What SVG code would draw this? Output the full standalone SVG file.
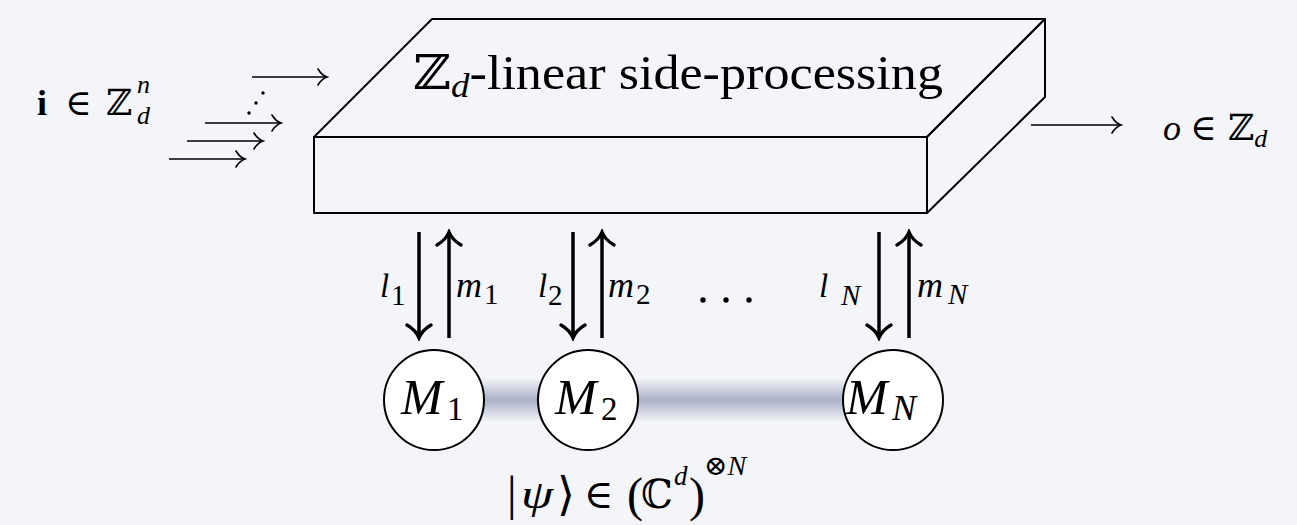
<svg xmlns="http://www.w3.org/2000/svg" width="1297" height="525" viewBox="0 0 1297 525">
<style>
text{font-family:'Liberation Serif','Times New Roman','DejaVu Serif',serif;fill:#000}
.it{font-style:italic}
.edge{stroke:#000;stroke-width:2;fill:#f4f5f9;stroke-linejoin:round}
.thin{stroke:#000;stroke-width:1.6;fill:none}
.thick{stroke:#000;stroke-width:3.5;fill:none}
.node{stroke:#000;stroke-width:2;fill:#fff}
</style>
<defs>
<marker id="hs" markerUnits="userSpaceOnUse" viewBox="-12 -10 14 20" refX="0" refY="0" markerWidth="14" markerHeight="20" orient="auto">
<path d="M-9,-8 C-6,-3 -2,-0.6 0,0 C-2,0.6 -6,3 -9,8" fill="none" stroke="#000" stroke-width="1.6" stroke-linecap="round"/>
</marker>
<marker id="hb" markerUnits="userSpaceOnUse" viewBox="-16 -15 19 30" refX="0" refY="0" markerWidth="19" markerHeight="30" orient="auto">
<path d="M-13,-12 C-9,-5 -3,-1.2 0,0 C-3,1.2 -9,5 -13,12" fill="none" stroke="#000" stroke-width="3.3" stroke-linecap="round"/>
</marker>
<linearGradient id="band" x1="0" y1="0" x2="0" y2="1">
<stop offset="0" stop-color="#a9b1c7" stop-opacity="0"/>
<stop offset="0.5" stop-color="#a9b1c7" stop-opacity="1"/>
<stop offset="1" stop-color="#a9b1c7" stop-opacity="0"/>
</linearGradient>
</defs>
<rect x="0" y="0" width="1297" height="525" fill="#f4f5f9"/>

<g id="box">
<polygon class="edge" points="314,137 432,19 1045,19 927,137"/>
<polygon class="edge" points="927,137 1045,19 1045,97 927,213"/>
<rect class="edge" x="314" y="137" width="613" height="76"/>
<text x="413" y="89" font-size="48" textLength="530" lengthAdjust="spacingAndGlyphs">ℤ<tspan class="it" font-size="34" dy="8">d</tspan><tspan dy="-8">-linear side-processing</tspan></text>
</g>

<g id="input-label">
<text y="115" font-size="36"><tspan x="37" font-weight="bold">i</tspan><tspan x="65">∈</tspan><tspan x="106">ℤ</tspan></text>
<text class="it" x="137" y="93" font-size="26">n</text>
<text class="it" x="137" y="124" font-size="26">d</text>
</g>

<g id="output-label">
<text y="140" font-size="36"><tspan x="1163" class="it">o</tspan><tspan x="1190">∈</tspan><tspan x="1228">ℤ</tspan><tspan class="it" font-size="26" dy="7">d</tspan></text>
</g>

<rect x="434" y="378" width="459" height="44" fill="url(#band)"/>

<g id="M1">
<circle class="node" cx="434" cy="400" r="50"/>
<text class="it" x="401" y="414" font-size="50">M<tspan x="447" font-style="normal" font-size="33" dy="6">1</tspan></text>
</g>
<g id="M2">
<circle class="node" cx="588" cy="400" r="50"/>
<text class="it" x="555" y="414" font-size="50">M<tspan x="601" font-style="normal" font-size="33" dy="6">2</tspan></text>
</g>
<g id="MN">
<circle class="node" cx="893" cy="400" r="50"/>
<text class="it" x="846" y="414" font-size="50">M<tspan x="892" font-size="36" dy="6">N</tspan></text>
</g>

<g id="state-label">
<text y="510" font-size="48"><tspan x="507">|</tspan></text>
<text class="it" y="508" font-size="40" transform="translate(521,0) scale(1.3,1)">ψ</text>
<text y="510" font-size="46"><tspan x="557">⟩</tspan></text>
<text y="508" font-size="40"><tspan x="584">∈</tspan></text>
<text y="511" font-size="48"><tspan x="627">(</tspan></text>
<text y="508" font-size="40"><tspan x="641">ℂ</tspan></text>
<text class="it" x="674" y="485" font-size="27">d</text>
<text x="689" y="511" font-size="48">)</text>
<text x="704" y="475" font-size="28">⊗<tspan class="it">N</tspan></text>
</g>

<g id="connectors">
<line class="thin" x1="252" y1="77" x2="327" y2="77" marker-end="url(#hs)"/>
<line class="thin" x1="205" y1="123" x2="281" y2="123" marker-end="url(#hs)"/>
<line class="thin" x1="187" y1="141" x2="263" y2="141" marker-end="url(#hs)"/>
<line class="thin" x1="169" y1="159" x2="245" y2="159" marker-end="url(#hs)"/>
<circle cx="263" cy="93" r="1.7"/>
<circle cx="256" cy="103" r="1.7"/>
<circle cx="249" cy="113" r="1.7"/>
<line class="thin" x1="1031" y1="125" x2="1121" y2="125" marker-end="url(#hs)"/>

<line class="thick" x1="419" y1="232" x2="419" y2="338" marker-end="url(#hb)"/>
<line class="thick" x1="449" y1="338" x2="449" y2="232" marker-end="url(#hb)"/>
<line class="thick" x1="573" y1="232" x2="573" y2="338" marker-end="url(#hb)"/>
<line class="thick" x1="602" y1="338" x2="602" y2="232" marker-end="url(#hb)"/>
<line class="thick" x1="879" y1="232" x2="879" y2="338" marker-end="url(#hb)"/>
<line class="thick" x1="909" y1="338" x2="909" y2="232" marker-end="url(#hb)"/>

<text class="it" x="380" y="297" font-size="33">l<tspan x="391" font-style="normal" font-size="29" dy="8">1</tspan></text>
<text class="it" x="456" y="297" font-size="36">m<tspan x="484" font-style="normal" font-size="29" dy="7">1</tspan></text>
<text class="it" x="538" y="297" font-size="33">l<tspan x="548" font-style="normal" font-size="29" dy="8">2</tspan></text>
<text class="it" x="608" y="297" font-size="36">m<tspan x="636" font-style="normal" font-size="29" dy="7">2</tspan></text>
<text class="it" x="819" y="297" font-size="33">l<tspan x="841" font-size="29" dy="8">N</tspan></text>
<text class="it" x="917" y="297" font-size="36">m<tspan x="948" font-size="29" dy="7">N</tspan></text>
<circle cx="703" cy="300" r="2.7"/>
<circle cx="726" cy="300" r="2.7"/>
<circle cx="749" cy="300" r="2.7"/>
</g>
</svg>
